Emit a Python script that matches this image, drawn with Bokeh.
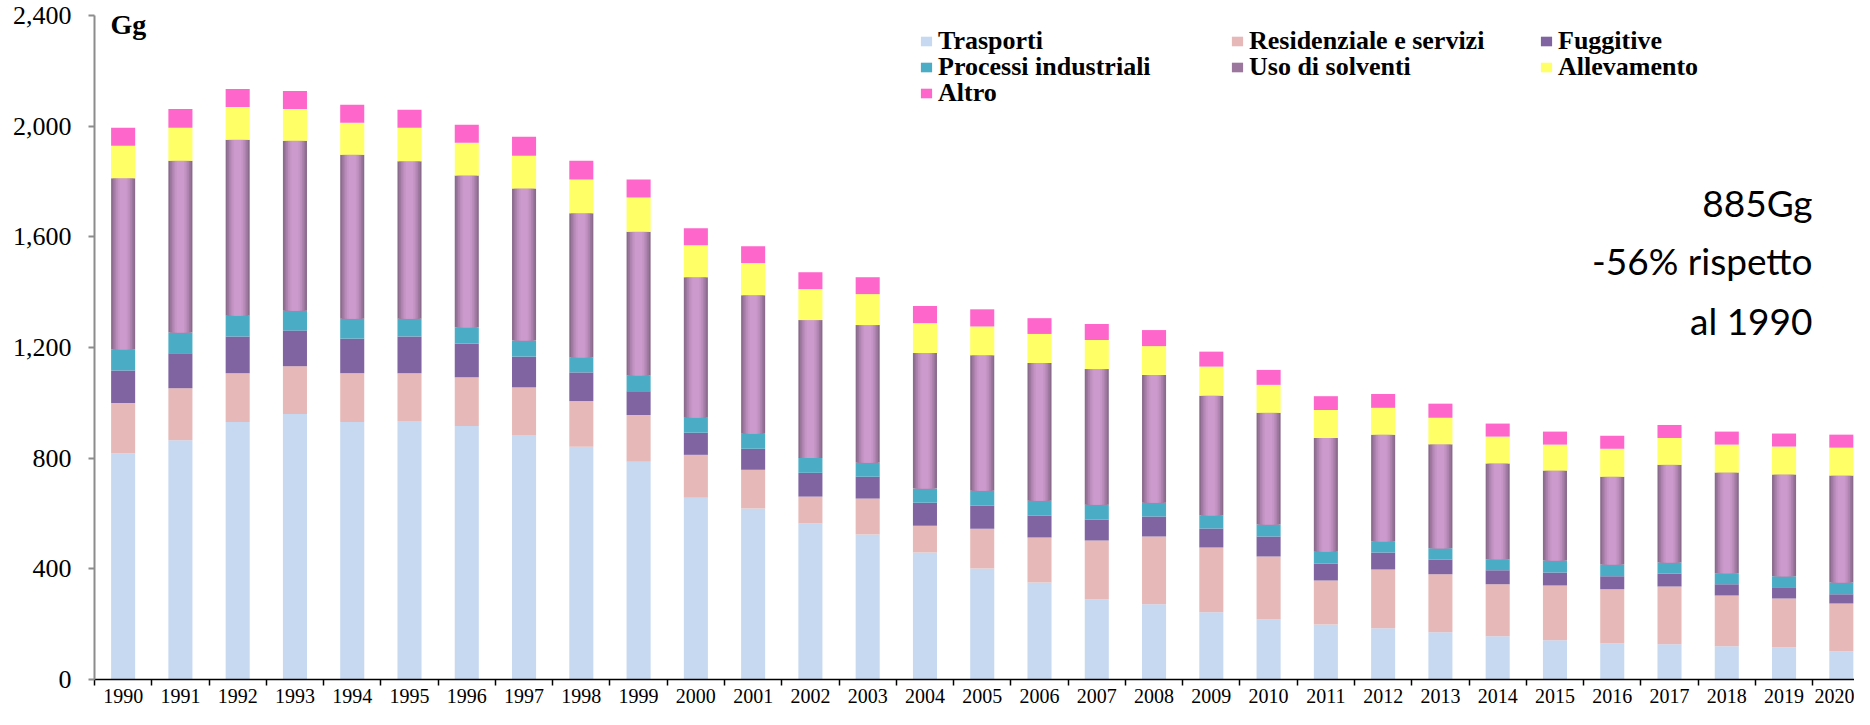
import numpy as np
from bokeh.plotting import figure
from bokeh.models import (ColumnDataSource, Range1d, FixedTicker, NumeralTickFormatter,
                          Legend, LegendItem, Label)
from bokeh.embed import file_html
from bokeh.resources import INLINE

# ---------------- data (Gg) ----------------
years = list(range(1990, 2021))
trasporti = [817, 865, 931, 960, 931, 934, 916, 884, 841, 787, 657, 618, 564, 524, 459, 401,
             351, 290, 272, 243, 218, 199, 185, 171, 156, 142, 131, 127, 120, 117, 102]
residenziale = [182, 188, 176, 172, 176, 173, 176, 172, 165, 169, 155, 140, 97, 130, 97, 144,
                162, 212, 245, 234, 227, 159, 213, 209, 188, 198, 195, 209, 184, 176, 173]
fuggitive = [118, 126, 133, 129, 125, 133, 122, 111, 104, 86, 80, 76, 86, 79, 83, 83,
             79, 76, 72, 69, 72, 61, 61, 54, 51, 47, 47, 47, 40, 40, 33]
processi = [76, 75, 75, 72, 72, 64, 58, 58, 54, 57, 54, 54, 54, 50, 51, 54,
            54, 54, 50, 47, 43, 43, 40, 40, 40, 43, 43, 40, 40, 40, 43]
solventi = [619, 621, 636, 614, 593, 569, 550, 550, 521, 519, 508, 501, 498, 498, 490, 490,
            498, 490, 462, 433, 404, 411, 386, 376, 346, 325, 317, 353, 364, 368, 386]
allevamento = [117, 119, 118, 115, 115, 121, 118, 118, 122, 124, 116, 116, 112, 112, 108, 104,
               105, 105, 104, 105, 101, 101, 97, 96, 97, 94, 101, 97, 101, 101, 101]
altro = [65, 68, 65, 65, 65, 65, 65, 69, 68, 65, 61, 61, 61, 61, 62, 62,
         57, 58, 58, 54, 54, 50, 50, 51, 47, 47, 47, 47, 47, 47, 47]

series_keys = ["trasporti", "residenziale", "fuggitive", "processi", "solventi", "allevamento", "altro"]
series_labels = ["Trasporti", "Residenziale e servizi", "Fuggitive", "Processi industriali",
                 "Uso di solventi", "Allevamento", "Altro"]
series_colors = ["#c6d9f0", "#e6b9b8", "#8064a2", "#4bacc6", "#9c779d", "#ffff66", "#ff66cc"]
solvent_shades = ["#8b6b8d", "#9c779d", "#ad83ae", "#bb8dbc", "#c595c6", "#cc9acc"]
y_ticks = [0, 400, 800, 1200, 1600, 2000, 2400]

annotation_lines = ["885Gg", "-56% rispetto", "al 1990"]

# ---------------- stacking ----------------
vals = np.array([trasporti, residenziale, fuggitive, processi, solventi, allevamento, altro], dtype=float)
cum = np.cumsum(vals, axis=0)
data = dict(year=years)
for i, k in enumerate(series_keys):
    data[k + "_bottom"] = cum[i] - vals[i]
    data[k + "_top"] = cum[i]
source = ColumnDataSource(data)

BAR_W = 0.42

p = figure(width=1854, height=709, output_backend="svg", toolbar_location=None,
           x_range=Range1d(1989.5, 2020.23), y_range=Range1d(0, 2400),
           min_border_left=94, min_border_right=0, min_border_top=15, min_border_bottom=30)
p.grid.visible = False
p.outline_line_color = None
p.background_fill_color = "white"
p.border_fill_color = "white"

renderers = {}
for k, c in zip(series_keys, series_colors):
    if k == "solventi":
        rs = []
        n = len(solvent_shades)
        for j, shade in enumerate(solvent_shades):
            w = BAR_W * (1.0 - j * 0.7 / (n - 1))
            r = p.vbar(x="year", bottom=k + "_bottom", top=k + "_top", width=w, source=source,
                       fill_color=shade, line_color=None)
            rs.append(r)
        renderers[k] = rs[1]
    else:
        renderers[k] = p.vbar(x="year", bottom=k + "_bottom", top=k + "_top", width=BAR_W,
                              source=source, fill_color=c, line_color=None)

# ---------------- axes ----------------
p.yaxis.ticker = FixedTicker(ticks=y_ticks, minor_ticks=[])
p.yaxis.formatter = NumeralTickFormatter(format="0,0")
p.yaxis.axis_line_color = "#8c8c8c"
p.yaxis.axis_line_width = 2
p.yaxis.major_tick_line_color = "#8c8c8c"
p.yaxis.major_tick_line_width = 2
p.yaxis.major_tick_out = 6
p.yaxis.major_tick_in = 0
p.yaxis.minor_tick_line_color = None
p.yaxis.major_label_standoff = 17
p.yaxis.major_label_text_font = "Liberation Serif"
p.yaxis.major_label_text_font_size = "26px"
p.yaxis.major_label_text_color = "black"

p.xaxis.ticker = FixedTicker(ticks=years, minor_ticks=[y - 0.5 for y in years] + [years[-1] + 0.5])
p.xaxis.axis_line_color = "black"
p.xaxis.axis_line_width = 1.5
p.xaxis.major_tick_out = 0
p.xaxis.major_tick_in = 0
p.xaxis.minor_tick_out = 6
p.xaxis.minor_tick_in = 0
p.xaxis.minor_tick_line_color = "black"
p.xaxis.minor_tick_line_width = 1.5
p.xaxis.major_label_standoff = 3
p.xaxis.major_label_text_font = "Liberation Serif"
p.xaxis.major_label_text_font_size = "20px"
p.xaxis.major_label_text_color = "black"

# ---------------- legends (one per item for exact placement) ----------------
legend_layout = [  # (series index, vx, vy)
    (0, 825, 622.7), (1, 1136, 622.7), (2, 1445, 622.7),
    (3, 825, 596.9), (4, 1136, 596.9), (5, 1445, 596.9),
    (6, 825, 571.1),
]
for idx, vx, vy in legend_layout:
    k = series_keys[idx]
    lg = Legend(items=[LegendItem(label=series_labels[idx], renderers=[renderers[k]])],
                location=(vx, vy), orientation="vertical",
                glyph_width=14, glyph_height=12, label_height=30, label_standoff=5,
                padding=0, margin=0, spacing=0,
                border_line_color=None, background_fill_alpha=0,
                label_text_font="Liberation Serif", label_text_font_style="bold",
                label_text_font_size="26px", label_text_color="black")
    p.add_layout(lg, "center")

# ---------------- texts ----------------
p.add_layout(Label(x=16, y=655, x_units="screen", y_units="screen", text="Gg",
                   text_font="Liberation Serif", text_font_style="bold", text_font_size="28px",
                   text_color="black", text_baseline="alphabetic", text_align="left"))

for line, yy in zip(annotation_lines, [477, 419, 359]):
    p.add_layout(Label(x=1718, y=yy, x_units="screen", y_units="screen", text=line,
                       text_font="Lato", text_font_size="37px", text_color="black",
                       text_baseline="alphabetic", text_align="right"))

open("out.html", "w").write(file_html(p, INLINE))
